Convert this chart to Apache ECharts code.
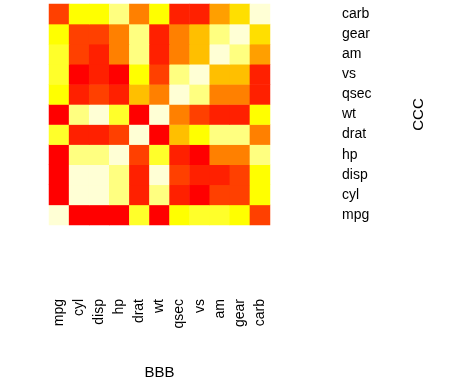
<!DOCTYPE html>
<html>
<head>
<meta charset="utf-8">
<script src="https://cdn.jsdelivr.net/npm/echarts@6/dist/echarts.min.js"></script>
<style>html,body{margin:0;padding:0;background:#fff;}#c{width:475px;height:385px;}</style>
</head>
<body>
<div id="c"></div>
<script>
var colLabels = ['mpg','cyl','disp','hp','drat','wt','qsec','vs','am','gear','carb'];
var rowLabels = ['mpg','cyl','disp','hp','drat','wt','qsec','vs','am','gear','carb'];
// heat.colors(12): level 0 = red ... 11 = pale yellow
var palette = ['#FF0000','#FF2000','#FF4000','#FF6000','#FF8000','#FF9F00','#FFBF00','#FFDF00','#FFFF00','#FFFF2A','#FFFF80','#FFFFD5'];
// colour level of each cell, one array per row (columns mpg..carb)
var row_mpg  = [11,0,0,0,9,0,8,9,9,8,2];
var row_cyl  = [0,11,11,10,1,10,1,0,2,2,8];
var row_disp = [0,11,11,10,1,11,2,1,1,2,8];
var row_hp   = [0,10,10,11,2,9,1,0,4,4,10];
var row_drat = [9,1,1,2,11,0,6,8,10,10,4];
var row_wt   = [0,10,11,9,0,11,4,2,1,1,8];
var row_qsec = [8,1,2,1,6,4,11,10,4,4,1];
var row_vs   = [9,0,1,0,8,2,10,11,6,6,1];
var row_am   = [9,2,1,4,10,1,4,6,11,10,5];
var row_gear = [8,2,2,4,10,1,4,6,10,11,7];
var row_carb = [2,8,8,10,4,8,1,1,5,7,11];
var rows = [row_mpg,row_cyl,row_disp,row_hp,row_drat,row_wt,row_qsec,row_vs,row_am,row_gear,row_carb];

var data = [];
rows.forEach(function(r, yi){ r.forEach(function(v, xi){ data.push([xi, yi, v]); }); });

var font = 'Liberation Sans, Arial, sans-serif';
var chart = echarts.init(document.getElementById('c'), null, {renderer:'canvas'});
chart.setOption({
  animation: false,
  backgroundColor: '#fff',
  grid: {left: 49, top: 4, width: 221, height: 221, containLabel: false},
  xAxis: {
    type: 'category', data: colLabels, position: 'bottom',
    axisLine: {show: false}, axisTick: {show: false}, splitLine: {show: false},
    axisLabel: {rotate: 90, margin: 74, fontSize: 14, color: '#000', fontFamily: font, interval: 0, padding: [7,0,0,0]},
    name: 'BBB', nameLocation: 'middle', nameGap: 140,
    nameTextStyle: {fontSize: 15, color: '#000', fontFamily: font}
  },
  yAxis: {
    type: 'category', data: rowLabels, position: 'right',
    axisLine: {show: false}, axisTick: {show: false}, splitLine: {show: false},
    axisLabel: {margin: 72, fontSize: 14, color: '#000', fontFamily: font, align: 'left', interval: 0, padding: [4,0,0,0]},
    name: 'CCC', nameLocation: 'middle', nameGap: 141, nameRotate: 90,
    nameTextStyle: {fontSize: 15, color: '#000', fontFamily: font}
  },
  visualMap: {
    type: 'piecewise', show: false, dimension: 2,
    pieces: palette.map(function(c, i){ return {value: i, color: c}; })
  },
  series: [{type: 'heatmap', data: data, itemStyle: {borderWidth: 0}, emphasis: {disabled: true}}]
});
</script>
</body>
</html>
